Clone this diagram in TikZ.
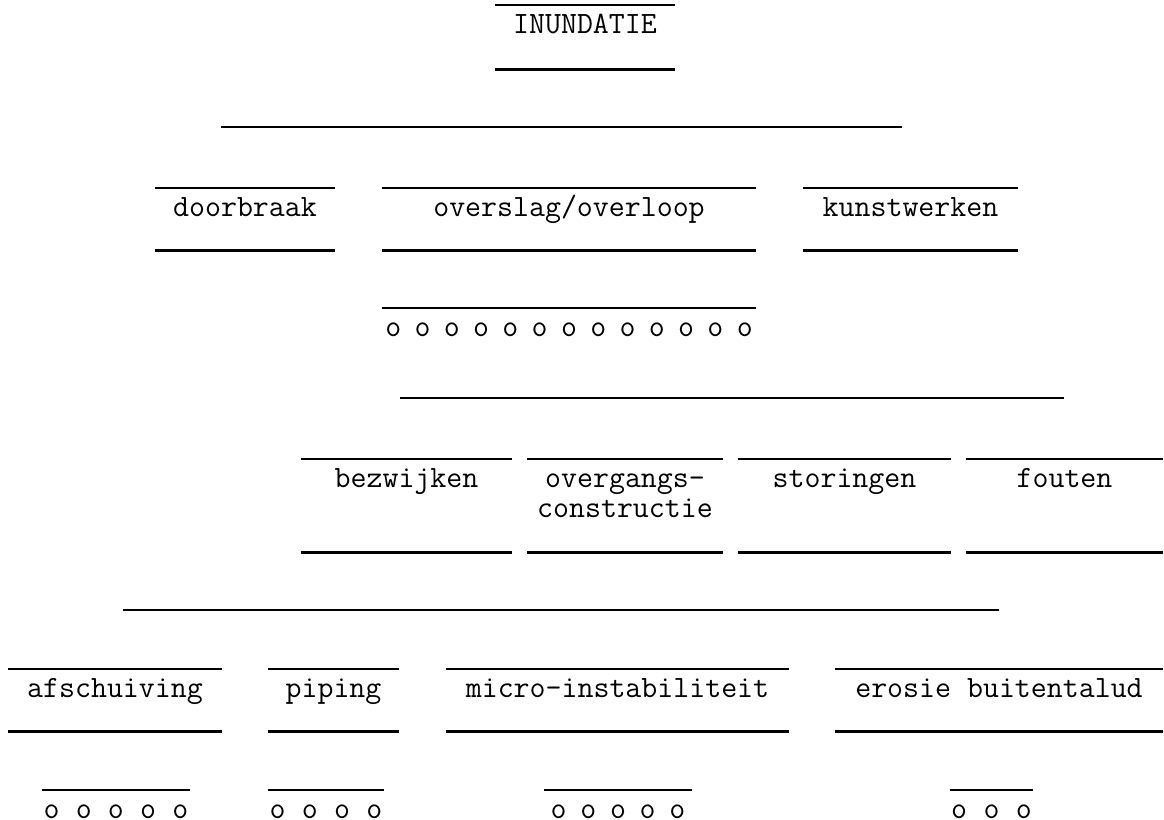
\documentclass[tikz,border=0pt]{standalone}
\usepackage{fontspec}
\newcommand\orow[2]{o\foreach \k in {2,...,#1}{\hspace{\dimexpr#2-0.525em\relax}o}}
\begin{document}
\begin{tikzpicture}[x=0.5pt, y=-0.5pt, line width=1.3pt,
  every node/.style={font=\ttfamily\fontsize{15.5}{15}\selectfont},
  cell/.style={anchor=north, inner sep=0pt, text height=13.5pt, minimum width=#1*0.5pt},
  deep/.style={text depth=#1}]
  \useasboundingbox (0,0) rectangle (1164,820);

  % top
  \node[cell=178, deep=17.5pt] (top) at (585,5) {INUNDATIE};
  \coordinate (s1-l) at (221,127);
  \coordinate (s1-r) at (902,127);

  % first row
  \node[cell=178, deep=16.5pt] (db) at (245,188) {doorbraak};
  \node[cell=372, deep=16.5pt] (ov) at (569,188) {overslag/overloop};
  \node[cell=213, deep=16.5pt] (kw) at (910.5,188) {kunstwerken};
  \node[cell=372] (ovo) at (569,308) {\orow{13}{14.8pt}};
  \coordinate (s2-l) at (400,398);
  \coordinate (s2-r) at (1064,398);

  % second row
  \node[cell=209, deep=32pt] (bz) at (406.5,459) {bezwijken};
  \node[cell=194, text height=28.5pt, deep=17pt, align=center] (og) at (625,459) {overgangs-\\constructie};
  \node[cell=211, deep=32pt] (st) at (844.5,459) {storingen};
  \node[cell=195, deep=32pt] (ft) at (1064.5,459) {fouten};
  \coordinate (s3-l) at (123,610);
  \coordinate (s3-r) at (999,610);

  % third row
  \node[cell=212, deep=16.5pt] (as) at (115,669) {afschuiving};
  \node[cell=129, deep=16.5pt] (pp) at (333.5,669) {piping};
  \node[cell=341, deep=16.5pt] (mi) at (617.5,669) {micro-instabiliteit};
  \node[cell=326, deep=16.5pt] (eb) at (999,669) {erosie buitentalud};
  \node[cell=146] (aso) at (116,790) {\orow{5}{16.25pt}};
  \node[cell=114] (ppo) at (326,790) {\orow{4}{16.25pt}};
  \node[cell=146] (mio) at (618,790) {\orow{5}{15pt}};
  \node[cell=81]  (ebo) at (991.5,790) {\orow{3}{16.3pt}};

  \foreach \n in {top,db,ov,kw,bz,og,st,ft,as,pp,mi,eb}{
    \draw (\n.north west) -- (\n.north east) (\n.south west) -- (\n.south east);}
  \foreach \n in {ovo,aso,ppo,mio,ebo}{\draw (\n.north west) -- (\n.north east);}
  \foreach \i in {1,2,3}{\draw (s\i-l) -- (s\i-r);}
\end{tikzpicture}
\end{document}
